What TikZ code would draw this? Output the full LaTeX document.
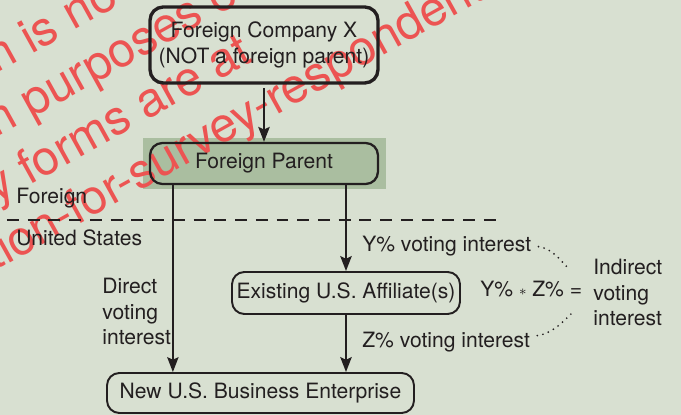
\documentclass[tikz,border=0pt]{standalone}
\usepackage{fontspec}
\setmainfont{TeX Gyre Heros}
\usetikzlibrary{arrows.meta}

\definecolor{bgcol}{RGB}{216,224,209}
\definecolor{parentgreen}{RGB}{170,190,160}
\definecolor{inkcol}{RGB}{35,31,32}
\definecolor{wmred}{RGB}{236,84,82}

\begin{document}
\begin{tikzpicture}[x=0.02cm, y=-0.02cm, color=inkcol,
    >={Stealth[length=8.5pt,width=6.5pt,inset=1.5pt]},
    font=\fontsize{12}{14.5}\selectfont,
    entity/.style={draw, rounded corners=7pt, line width=1.1pt, inner sep=0pt,
        minimum width=4.56cm, minimum height=0.84cm, align=center},
    lbl/.style={inner sep=0pt, anchor=base west},
    lblbox/.style={inner sep=0pt, anchor=north west, align=left},
    link/.style={->, line width=1.1pt},
    dotlink/.style={line width=1.1pt, line cap=round, dash pattern=on 0pt off 3.3pt},
    border/.style={line width=1.3pt, dash pattern=on 6.8pt off 5pt},
    wmark/.style={text=wmred, font=\fontsize{27.5}{30}\selectfont, rotate=29,
        anchor=base west, inner sep=0pt}]

    % Background and shading
    \useasboundingbox (0,0) rectangle (681,415);
    \fill [bgcol] (0,0) rectangle (681,415);
    \fill [parentgreen] (143,138) rectangle (386,189);

    % Watermark
    \begin{scope}
        \clip (0,0) rectangle (681,415);
        \node [wmark] (wm1) at (-4,74)  {n is no};
        \node [wmark] (wm2) at (-4,138) {n purposes o};
        \node [wmark] (wm3) at (-4,204) {y forms are at};
        \node [wmark] (wm4) at (-5,271) {tion-for-survey-respondent};
    \end{scope}

    % Nodes
    \node [entity, line width=1.9pt, rounded corners=7.5pt, minimum height=1.52cm] (compX) at (264,45)
        {Foreign Company X\\(NOT a foreign parent)};
    \node [entity, line width=1.3pt, minimum height=0.82cm] (parent) at (264,163.5) {Foreign Parent};
    \node [entity] (affil) at (346,293) {Existing U.S. Affiliate(s)};
    \node [entity, minimum width=6.14cm, minimum height=0.80cm] (newbe) at (260.5,393)
        {New U.S. Business Enterprise};

    % Region labels and divider
    \coordinate (divL) at (7,220);
    \coordinate (divR) at (500,220);
    \draw [border] (divL) -- (divR);
    \node [lbl] (foreign) at (16,204) {Foreign};
    \node [lbl] (usa) at (16,246) {United States};

    % Interest labels
    \node [lblbox] (direct) at (102,278) {Direct\\voting\\interest};
    \node [lbl] (ylab) at (362,252) {Y\% voting interest};
    \node [lbl] (zlab) at (362,348) {Z\% voting interest};
    \node [lbl] (prod) at (480,297) {Y\% \raisebox{1pt}{$\scriptstyle\ast$} Z\% =};
    \node [lblbox] (indirect) at (593,259) {Indirect\\voting\\interest};
    \coordinate (upend) at (570,270);
    \coordinate (lowend) at (571,314);

    % Paths
    \coordinate (dtop) at ([xshift=0.48cm]parent.south west);
    \path [link] (compX) edge [shorten <=2pt] (parent);
    \path [link] (dtop) edge [line width=0.8pt] (dtop |- newbe.north);
    \path [link] (affil.north |- parent.south) edge (affil.north);
    \path [link] (affil.south) edge (affil.south |- newbe.north);
    \draw [dotlink] ([xshift=4pt]ylab.east) .. controls +(14,2) and +(-10,-10) .. (upend);
    \draw [dotlink] ([xshift=4pt,yshift=4pt]zlab.east) .. controls +(14,-2) and +(-10,10) .. (lowend);

\end{tikzpicture}
\end{document}
